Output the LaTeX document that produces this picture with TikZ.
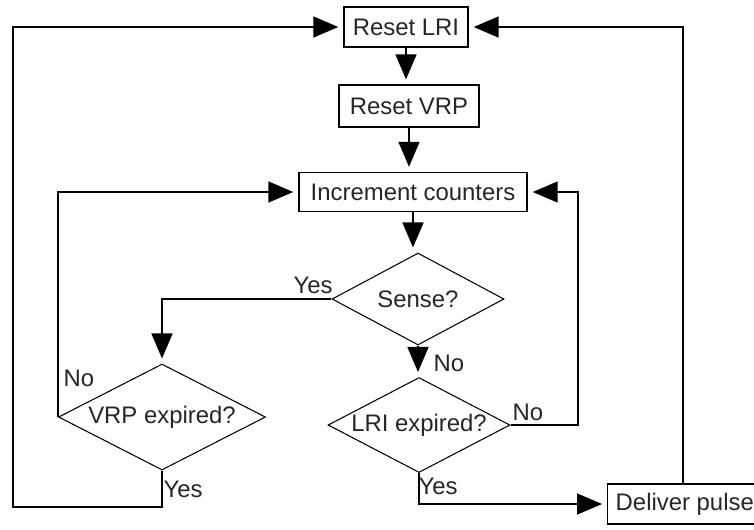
\documentclass[tikz,border=0pt]{standalone}
\usepackage{fontspec}
\setmainfont{Liberation Sans}
\usetikzlibrary{shapes.geometric,arrows.meta}

\begin{document}
\begin{tikzpicture}[
        font=\fontsize{13.6pt}{16pt}\selectfont,
        box/.style={draw, line width=0.8pt, inner sep=0pt, text=black!85},
        decision/.style={draw, diamond, aspect=2, line width=0.6pt, inner sep=0pt, text=black!85},
        arr/.style={line width=0.9pt, -{Triangle[length=0.5cm,width=0.42cm]}, shorten >=0.1cm},
        lbl/.style={text=black!85}
    ]
        \useasboundingbox (0,0) rectangle (15.08,-10.58);
        % boxes
        \node [box, minimum width=2.48cm, minimum height=0.8cm] (rlri) at (8.12,-0.54) {Reset LRI};
        \node [box, minimum width=2.8cm, minimum height=0.84cm] (rvrp) at (8.18,-2.12) {Reset VRP};
        \node [box, minimum width=4.56cm, minimum height=0.78cm] (inc) at (8.26,-3.84) {Increment counters};
        \node [box, anchor=west, inner xsep=0.16cm, minimum height=0.8cm] (pulse) at (12.14,-10.08) {Deliver pulse};
        % decisions
        \node [decision, minimum width=3.44cm, minimum height=1.84cm] (sense) at (8.36,-5.98) {Sense?};
        \node [decision, minimum width=3.64cm, minimum height=1.9cm] (lri) at (8.38,-8.5) {LRI expired?};
        \node [decision, minimum width=4.14cm, minimum height=2.12cm] (vrp) at (3.24,-8.34) {VRP expired?};
        % corners
        \coordinate (lowleft) at (0.26,-10.14);
        \coordinate (rightloop) at (11.56,-8.5);
        \coordinate (pulsetop) at (13.66,-9.7);
        % main column
        \draw [arr] (rlri.south) -- (rlri.south |- rvrp.north);
        \draw [arr] (rvrp.south) -- (rvrp.south |- inc.north);
        \draw [arr] (inc.south) -- (inc.south |- sense.north);
        \draw [arr] (sense.south) -- (sense.south |- lri.north);
        % loops
        \draw [arr] (sense.west) -| (vrp.north);
        \draw [arr] (vrp.west) |- (inc.west);
        \draw [arr] (vrp.south) |- (lowleft) |- (rlri.west);
        \draw [arr] (lri.east) -- (rightloop) |- (inc.east);
        \draw [arr] (lri.south) |- (pulse.west);
        \draw [arr] (pulsetop) |- (rlri.east);
        % labels
        \node [lbl] (senseyes) at (6.26,-5.7) {Yes};
        \node [lbl] (senseno) at (8.98,-7.26) {No};
        \node [lbl] (lrino) at (10.56,-8.24) {No};
        \node [lbl] (lriyes) at (8.76,-9.72) {Yes};
        \node [lbl] (vrpno) at (1.58,-7.56) {No};
        \node [lbl] (vrpyes) at (3.66,-9.78) {Yes};
    \end{tikzpicture}
\end{document}
